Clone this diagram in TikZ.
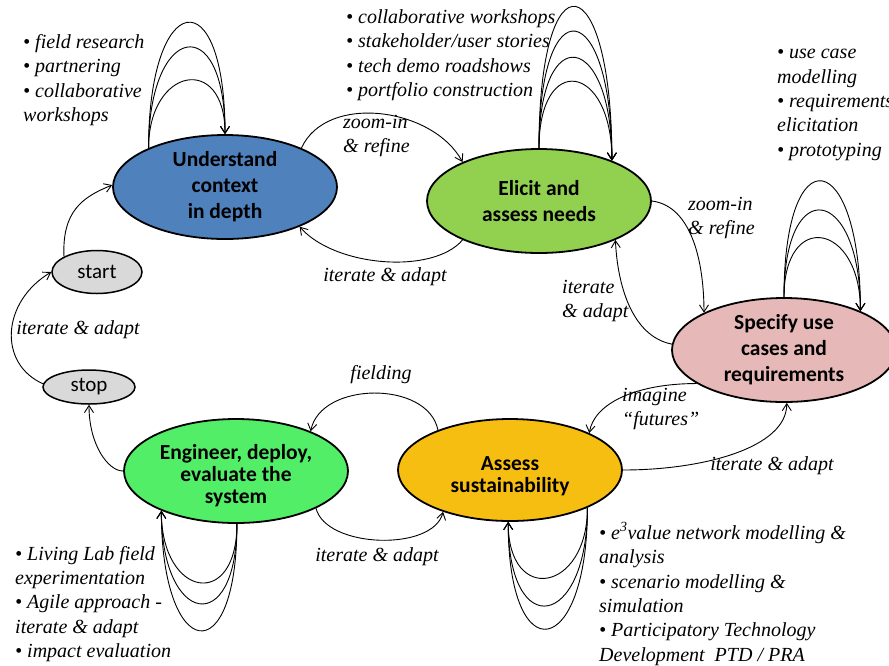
\documentclass[tikz,border=0pt]{standalone}
\usepackage{fontspec}
\setmainfont{Liberation Serif}
\newfontfamily\serifit{Liberation Serif}
\newfontfamily\boxfont{Carlito}
\usetikzlibrary{shapes.geometric,arrows.meta}
\definecolor{ublue}{RGB}{79,129,189}
\definecolor{egreen}{RGB}{146,208,80}
\definecolor{spink}{RGB}{230,185,184}
\definecolor{aorange}{RGB}{247,190,18}
\definecolor{ggreen}{RGB}{82,238,104}
\definecolor{tgray}{RGB}{217,217,217}
\begin{document}
\begin{tikzpicture}[x=1pt,y=-1pt,
  state/.style={ellipse, draw=black, line width=1.8pt, inner sep=0pt,
    minimum width=224pt, minimum height=104pt, align=center,
    font=\boxfont\bfseries\fontsize{21.5}{26}\selectfont},
  tighttext/.style={align=center, inner sep=0pt,
    font=\boxfont\bfseries\fontsize{21.5}{22}\selectfont},
  term/.style={ellipse, draw=black, line width=1.5pt, fill=tgray, inner sep=0pt,
    font=\boxfont\fontsize{21}{25}\selectfont},
  conn/.style={line width=0.9pt, -{Straight Barb[length=7pt,width=9pt]}},
  lbl/.style={font=\serifit\itshape\fontsize{20}{24.4}\selectfont, inner sep=0pt, align=left},
]
\useasboundingbox (0,0) rectangle (889,665);
\clip (0,0) rectangle (889,665);

% states
\node[state, fill=ublue] (u) at (225,187) {Understand\\context\\in depth};
\node[state, fill=egreen] (e) at (539,201) {Elicit and\\assess needs};
\node[state, fill=spink] (s) at (784,350) {Specify use\\cases and\\requirements};
\node[state, fill=aorange, minimum height=102pt,
  label={[tighttext, yshift=-6pt]center:{Assess\\sustainability}}] (a) at (510,470) {};
\node[state, fill=ggreen,
  label={[tighttext, yshift=-5pt]center:{Engineer, deploy,\\evaluate the\\system}}] (g) at (236,471) {};
\node[term, minimum width=90pt, minimum height=43pt] (start) at (97,272) {start};
\node[term, minimum width=92pt, minimum height=34pt] (stop) at (89,387) {stop};

% connectors
\draw[conn] (start.155) .. controls +(-2,-45) and +(-30,12) .. (u.179);
\draw[conn] (stop.176) .. controls +(-45,-20) and +(-50,30) .. (start.180);
\draw[conn] (g.180) .. controls +(-15,0) and +(0,40) .. (stop.270);
\draw[conn] (u.27) .. controls +(25,-55) and +(-30,-55) .. (e.153);
\draw[conn] (e.207) .. controls +(-30,35) and +(35,40) .. (u.332);
\draw[conn] (e.0) .. controls +(40,5) and +(0,-50) .. (s.155);
\draw[conn] (s.177) .. controls +(-40,-8) and +(2,45) .. (e.333);
\draw[conn] (s.201) .. controls +(-60,0) and +(5,-30) .. (a.25);
\draw[conn] (a.0) .. controls +(80,0) and +(0,45) .. (s.273);
\draw[conn] (a.151) .. controls +(-10,-50) and +(10,-50) .. (g.28);
\draw[conn] (g.335) .. controls +(10,40) and +(-10,40) .. (a.212);

% self loops
\foreach \h in {158,125,81}
  \draw[conn] (u.153) .. controls +(0,-\h) and +(0,-\h) .. (u.90);
\foreach \h in {197,164,129,97}
  \draw[conn] (e.90) .. controls +(0,-\h) and +(0,-\h) .. (e.29);
\foreach \h in {164,125,88}
  \draw[conn] (s.90) .. controls +(0,-\h) and +(0,-\h) .. (s.27);
\foreach \h in {87,115,151}
  \draw[conn] (g.271) .. controls +(0,\h) and +(0,\h) .. (g.208);
\foreach \h in {84,121,152}
  \draw[conn] (a.334) .. controls +(0,\h) and +(0,\h) .. (a.268);

% connector labels
\node[lbl] (l1) at (78,330) {iterate \& adapt};
\node[lbl, anchor=west] (l2) at (343,136) {zoom-in\\\& refine};
\node[lbl] (l3) at (385,277) {iterate \& adapt};
\node[lbl, anchor=west] (l4) at (688,218) {zoom-in\\\& refine};
\node[lbl, anchor=west] (l5) at (562,301) {iterate\\\& adapt};
\node[lbl, anchor=west] (l6) at (622,409) {imagine\\“futures”};
\node[lbl] (l7) at (772,466) {iterate \& adapt};
\node[lbl] (l8) at (381,375) {fielding};
\node[lbl] (l9) at (377,557) {iterate \& adapt};

% activity lists
\node[lbl, anchor=west] (b1) at (23,80) {• field research\\• partnering\\• collaborative\\workshops};
\node[lbl, anchor=west] (b2) at (346,55) {• collaborative workshops\\• stakeholder/user stories\\• tech demo roadshows\\• portfolio construction};
\node[lbl, anchor=west] (b3) at (777,105) {• use case\\modelling\\• requirements\\elicitation\\• prototyping};
\node[lbl, anchor=west] (b4) at (15,604) {• Living Lab field\\experimentation\\• Agile approach -\\iterate \& adapt\\• impact evaluation};
\node[lbl, anchor=west] (b5) at (599,594) {• e\textsuperscript{3}value network modelling \&\\analysis\\• scenario modelling \&\\simulation\\• Participatory Technology\\Development\ \ PTD / PRA};
\end{tikzpicture}
\end{document}
